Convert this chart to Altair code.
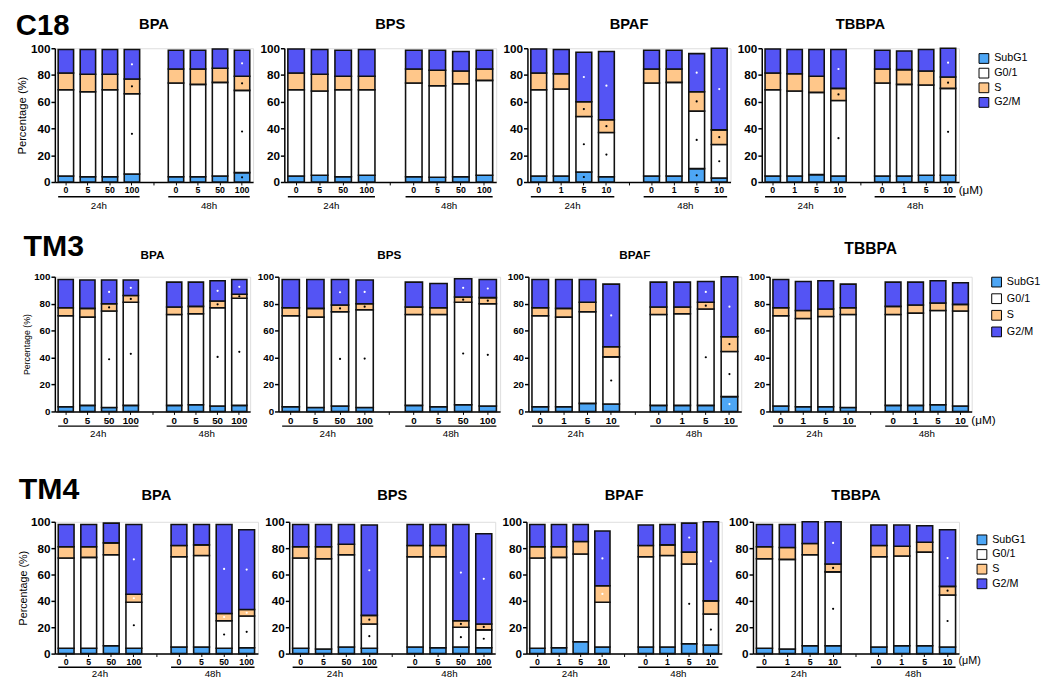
import altair as alt
import pandas as pd

FONT = "Liberation Sans"
PHASES = ["SubG1", "G0/1", "S", "G2/M"]
PHASE_COLORS = ["#4DA6F5", "#FFFFFF", "#FFC78A", "#5454F4"]
TIMES = ["24h", "48h"]
DOSES_BP = ["0", "5", "50", "100"]
DOSES_AF = ["0", "1", "5", "10"]
Y_TICKS = [0, 20, 40, 60, 80, 100]
CELLS = ["C18", "TM3", "TM4"]
COMPOUNDS = ["BPA", "BPS", "BPAF", "TBBPA"]

# cumulative tops of SubG1, G0/1, S, G2/M for 8 bars (24h x4, then 48h x4)
C18_BPA = [(4.5, 69, 81.5, 99), (4, 67.5, 80.5, 99), (4, 69, 80.5, 99), (6, 66, 77, 99),
           (4, 74, 84.5, 98.5), (4, 73, 84.5, 98.5), (4.5, 74.5, 85, 99.5), (7, 68.5, 79, 98.5)]
C18_BPS = [(4.5, 69, 81.5, 99.5), (5, 68, 80.5, 99), (4, 69, 79, 98.5), (5, 69, 79, 99),
           (4, 74, 84.5, 98.5), (3.5, 72, 83.5, 98.5), (4, 73.5, 83, 97.5), (5, 76, 84.5, 98.5)]
C18_BPAF = [(4.5, 69, 81.5, 99.5), (4.5, 69.5, 81, 99), (7.5, 49, 60, 97), (4, 37, 46.5, 97.5),
            (4.5, 74, 84.5, 98.5), (4.5, 74.5, 84.5, 98.5), (10, 53, 67.5, 96), (3, 28, 39, 100)]
C18_TBBPA = [(4.5, 69, 81.5, 99.5), (4.5, 68, 81, 99), (5.5, 67, 79, 99), (4.5, 61, 70, 99),
             (4.5, 74, 84.5, 98.5), (4.5, 73, 84, 98), (5, 72.5, 83, 99), (5, 70, 78.5, 100)]

TM3_BPA = [(3.5, 71, 77, 98), (4.5, 70, 76.5, 97.5), (3, 74.5, 80, 97.5), (4.5, 81, 86, 97.5),
           (4.5, 72, 77.5, 96), (5, 72.5, 78, 96), (4, 77, 82, 97), (4.5, 84, 87, 98)]
TM3_BPS = [(3.5, 71, 77, 98), (3, 70, 76.5, 98), (4, 74, 79, 98), (3, 75.5, 80, 97.5),
           (4.5, 72, 77.5, 96), (3.5, 72, 77, 95), (5, 81, 85, 98.5), (4, 80, 84.5, 98)]
TM3_BPAF = [(3.5, 71, 77, 98), (3.5, 70, 76.5, 98), (6, 74, 81, 98), (5.5, 40.5, 48, 94.5),
            (4.5, 72, 77.5, 96), (4.5, 72.5, 77.5, 96), (4.5, 76, 81, 96.5), (11, 44.5, 55.5, 100)]
TM3_TBBPA = [(4, 71, 77, 98), (3.5, 69, 75, 96.5), (3.5, 70.5, 76, 97), (3, 72, 77, 94.5),
             (4.5, 72, 78, 96), (4.5, 73, 79, 96), (5, 75, 80.5, 97), (4, 74.5, 79.5, 95.5)]

TM4_BPA = [(4, 72.5, 81, 98), (4, 73, 81, 98), (6, 75, 84, 99), (4, 39, 45, 98),
           (5, 73.5, 82, 98), (5, 74.5, 82.5, 98), (4, 25, 30.5, 98), (4.5, 28.5, 33.5, 94)]
TM4_BPS = [(4, 72.5, 81, 98), (3.5, 72, 81, 98), (5, 75, 83, 98), (4, 22.5, 29, 97.5),
           (5, 73.5, 82, 98), (4.5, 73.5, 82, 98), (5, 20, 25, 98), (4.5, 18, 22.5, 91)]
TM4_BPAF = [(4, 72.5, 81, 98), (4.5, 73, 81, 98), (9, 75.5, 85, 98), (5, 39, 51.5, 93),
            (5, 73.5, 82, 97.5), (5, 74.5, 82.5, 98), (7.5, 68, 77, 99), (6.5, 30, 40, 100)]
TM4_TBBPA = [(4, 72, 81, 98), (3.5, 71.5, 80.5, 98), (6, 75, 83.5, 100), (6, 62, 68, 100),
             (5, 73.5, 82, 97.5), (6, 74, 81.5, 97.5), (6, 77, 84.5, 97), (5, 44.5, 51, 94)]

# significance dots: (bar index, phase, colour w/k)
C18_BPA_STARS = [(3, "G2/M", "w"), (3, "S", "k"), (3, "G0/1", "k"),
                 (7, "G2/M", "w"), (7, "S", "k"), (7, "G0/1", "k"), (7, "SubG1", "k")]
C18_BPS_STARS = []
C18_BPAF_STARS = [(2, "G2/M", "w"), (2, "S", "k"), (2, "G0/1", "k"), (2, "SubG1", "k"),
                  (3, "G2/M", "w"), (3, "S", "k"), (3, "G0/1", "k"),
                  (6, "G2/M", "w"), (6, "S", "k"), (6, "G0/1", "k"), (6, "SubG1", "k"),
                  (7, "G2/M", "w"), (7, "S", "k"), (7, "G0/1", "k")]
C18_TBBPA_STARS = [(3, "G2/M", "w"), (3, "S", "k"), (3, "G0/1", "k"),
                   (7, "G2/M", "w"), (7, "S", "k"), (7, "G0/1", "k")]
TM3_BPA_STARS = [(b, p, c) for b in (2, 3, 6, 7) for p, c in (("G2/M", "w"), ("S", "k"), ("G0/1", "k"))]
TM3_BPS_STARS = [(b, p, c) for b in (2, 3, 6, 7) for p, c in (("G2/M", "w"), ("S", "k"), ("G0/1", "k"))]
TM3_BPAF_STARS = [(3, "G2/M", "w"), (3, "G0/1", "k"),
                  (6, "G2/M", "w"), (6, "S", "k"), (6, "G0/1", "k"),
                  (7, "G2/M", "w"), (7, "S", "k"), (7, "G0/1", "k"), (7, "SubG1", "w")]
TM3_TBBPA_STARS = []
TM4_BPA_STARS = [(b, p, c) for b in (3, 6, 7) for p, c in (("G2/M", "w"), ("S", "w"), ("G0/1", "k"))]
TM4_BPS_STARS = [(b, p, c) for b in (3, 6, 7) for p, c in (("G2/M", "w"), ("S", "k"), ("G0/1", "k"))]
TM4_BPAF_STARS = [(3, "G2/M", "w"), (3, "S", "w"), (6, "G2/M", "w"), (6, "G0/1", "k"),
                  (7, "G2/M", "w"), (7, "G0/1", "k")]
TM4_TBBPA_STARS = [(3, "G2/M", "w"), (3, "S", "k"), (3, "G0/1", "k"),
                   (7, "G2/M", "w"), (7, "S", "k"), (7, "G0/1", "k")]

DATA = {
    "C18": [C18_BPA, C18_BPS, C18_BPAF, C18_TBBPA],
    "TM3": [TM3_BPA, TM3_BPS, TM3_BPAF, TM3_TBBPA],
    "TM4": [TM4_BPA, TM4_BPS, TM4_BPAF, TM4_TBBPA],
}
STARS = {
    "C18": [C18_BPA_STARS, C18_BPS_STARS, C18_BPAF_STARS, C18_TBBPA_STARS],
    "TM3": [TM3_BPA_STARS, TM3_BPS_STARS, TM3_BPAF_STARS, TM3_TBBPA_STARS],
    "TM4": [TM4_BPA_STARS, TM4_BPS_STARS, TM4_BPAF_STARS, TM4_TBBPA_STARS],
}

ROWCFG = {
    "C18": dict(h=137, widths=[203, 217, 208, 202], yl=12, xl=9, tsize=[15, 15, 15, 15],
                ty=[-20, -20, -20, -20], ytitle=11.5, tpad=3,
                dx=-40, dy=-38, lsize=30, rule=15, gtext=25, gsize=10, mu=8, musize=12,
                lx=20, ly=5, lrow=0),
    "TM3": dict(h=138, widths=[200, 227, 218, 207], yl=10, xl=10, tsize=[12, 12, 12, 16],
                ty=[-18, -18, -18, -23], ytitle=9, tpad=2,
                dx=-32, dy=-45, lsize=31, rule=15, gtext=23, gsize=10, mu=9, musize=12,
                lx=20, ly=0, lrow=2),
    "TM4": dict(h=135, widths=[208, 211, 200, 211], yl=12, xl=9, tsize=[15, 15, 15, 15],
                ty=[-22, -22, -22, -22], ytitle=11, tpad=2,
                dx=-37, dy=-47, lsize=31, rule=14, gtext=21, gsize=10, mu=8, musize=11,
                lx=18, ly=13, lrow=0),
}


def panel(cell, ci):
    cfg = ROWCFG[cell]
    comp = COMPOUNDS[ci]
    tops = DATA[cell][ci]
    stars = STARS[cell][ci]
    doses = DOSES_BP if ci < 2 else DOSES_AF
    w, h = cfg["widths"][ci], cfg["h"]
    keys = [f"{t}|{d}" for t in TIMES for d in doses]
    domain = keys[:4] + ["gap|"] + keys[4:]

    rows = []
    for i, k in enumerate(keys):
        prev = 0
        for j, ph in enumerate(PHASES):
            rows.append(dict(key=k, phase=ph, y0=prev, y1=tops[i][j]))
            prev = tops[i][j]
    df = pd.DataFrame(rows)

    xs = alt.Scale(domain=domain, paddingInner=0.3, paddingOuter=0.15)
    ys = alt.Scale(domain=[0, 100], nice=False)
    xaxis = alt.Axis(title=None, labelExpr="split(datum.label, '|')[1]", labelAngle=0,
                     labelFont=FONT, labelFontSize=cfg["xl"], labelFontWeight="bold",
                     labelColor="black", domainColor="black", domainWidth=1.5,
                     tickColor="black", tickSize=3, tickWidth=1, labelPadding=1,
                     labelOverlap=False)
    yaxis = alt.Axis(values=Y_TICKS, tickCount=6, grid=False, labelOverlap=False,
                     title="Percentage (%)" if ci == 0 else None,
                     titleFont=FONT, titleFontSize=cfg["ytitle"], titleFontWeight="normal",
                     titleColor="black", titlePadding=cfg["tpad"],
                     labelFont=FONT, labelFontSize=cfg["yl"], labelFontWeight="bold",
                     labelColor="black", domainColor="black", domainWidth=1.5,
                     tickColor="black", tickSize=4, tickWidth=1.5, labelPadding=1)
    step = w / len(domain)
    legend = None
    if ci == 3:
        legend = alt.Legend(title=None, orient="none", legendX=w + cfg["lx"], legendY=cfg["ly"],
                            direction="vertical", symbolType="square", symbolSize=100,
                            symbolStrokeColor="black", symbolStrokeWidth=1, labelFontSize=11,
                            labelFont=FONT, labelColor="black", rowPadding=cfg["lrow"], labelOffset=5)
    bars = alt.Chart(df).mark_bar(stroke="#111111", strokeWidth=1.6).encode(
        x=alt.X("key:N", scale=xs, sort=domain, axis=xaxis),
        y=alt.Y("y0:Q", scale=ys, axis=yaxis),
        y2="y1:Q",
        color=alt.Color("phase:N", scale=alt.Scale(domain=PHASES, range=PHASE_COLORS), legend=legend),
    )

    srows = []
    for b, ph, c in stars:
        j = PHASES.index(ph)
        lo = 0 if j == 0 else tops[b][j - 1]
        srows.append(dict(key=keys[b], lo=lo, hi=tops[b][j], dc=c))
    sdf = pd.DataFrame(srows, columns=["key", "lo", "hi", "dc"])
    dots = alt.Chart(sdf).transform_calculate(mid="(datum.lo + datum.hi) / 2").mark_circle(
        size=5, opacity=1).encode(
        x=alt.X("key:N", scale=xs, axis=xaxis),
        y=alt.Y("mid:Q", scale=ys, axis=yaxis),
        color=alt.condition("datum.dc == 'w'", alt.value("white"), alt.value("black")),
    )

    gdf = pd.DataFrame({"key": [keys[0], keys[4]], "kend": [keys[3], keys[7]],
                        "kmid": [keys[1], keys[5]], "time": TIMES})
    rules = alt.Chart(gdf).mark_rule(color="black", strokeWidth=1.5).encode(
        x=alt.X("key:N", scale=xs, axis=xaxis, bandPosition=0),
        x2=alt.X2("kend:N", bandPosition=1),
        y=alt.value(h + cfg["rule"]),
    )
    gtext = alt.Chart(gdf).mark_text(font=FONT, fontSize=cfg["gsize"], color="black",
                                     dx=0.15 * step).encode(
        x=alt.X("kmid:N", scale=xs, axis=xaxis, bandPosition=1),
        y=alt.value(h + cfg["gtext"]),
        text="time:N",
    )
    tdf = pd.DataFrame({"t": [comp]})
    title = alt.Chart(tdf).mark_text(font=FONT, fontSize=cfg["tsize"][ci], fontWeight="bold",
                                     color="black", align="center", baseline="alphabetic").encode(
        x=alt.value(w / 2), y=alt.value(cfg["ty"][ci]), text="t:N")
    layers = [bars, dots, rules, gtext, title]

    if ci == 3:
        mdf = pd.DataFrame({"key": [keys[7]], "t": ["(μM)"]})
        layers.append(alt.Chart(mdf).mark_text(font=FONT, fontSize=cfg["musize"], align="left",
                                               color="black", dx=3).encode(
            x=alt.X("key:N", scale=xs, axis=xaxis, bandPosition=1),
            y=alt.value(h + cfg["mu"]),
            text="t:N",
        ))
    if ci == 0:
        ldf = pd.DataFrame({"t": [cell]})
        layers.append(alt.Chart(ldf).mark_text(font=FONT, fontSize=cfg["lsize"], fontWeight="bold",
                                               align="left", baseline="top", color="black").encode(
            x=alt.value(cfg["dx"]), y=alt.value(cfg["dy"]), text="t:N"))

    return alt.layer(*layers).properties(width=w, height=h)


def row(cell):
    return alt.hconcat(*[panel(cell, i) for i in range(4)], spacing=5).resolve_legend(color="independent")


top = alt.vconcat(row("C18"), row("TM3"), spacing=19).resolve_legend(color="independent")
chart = alt.vconcat(top, row("TM4"), spacing=35).resolve_legend(color="independent").properties(
    padding={"left": 7, "top": -6, "right": 0, "bottom": 0}
).configure_view(stroke=None).configure_axis(labelOverlap=False).configure(font=FONT)

chart.save("out.html", embed_options={"renderer": "svg", "actions": False})
